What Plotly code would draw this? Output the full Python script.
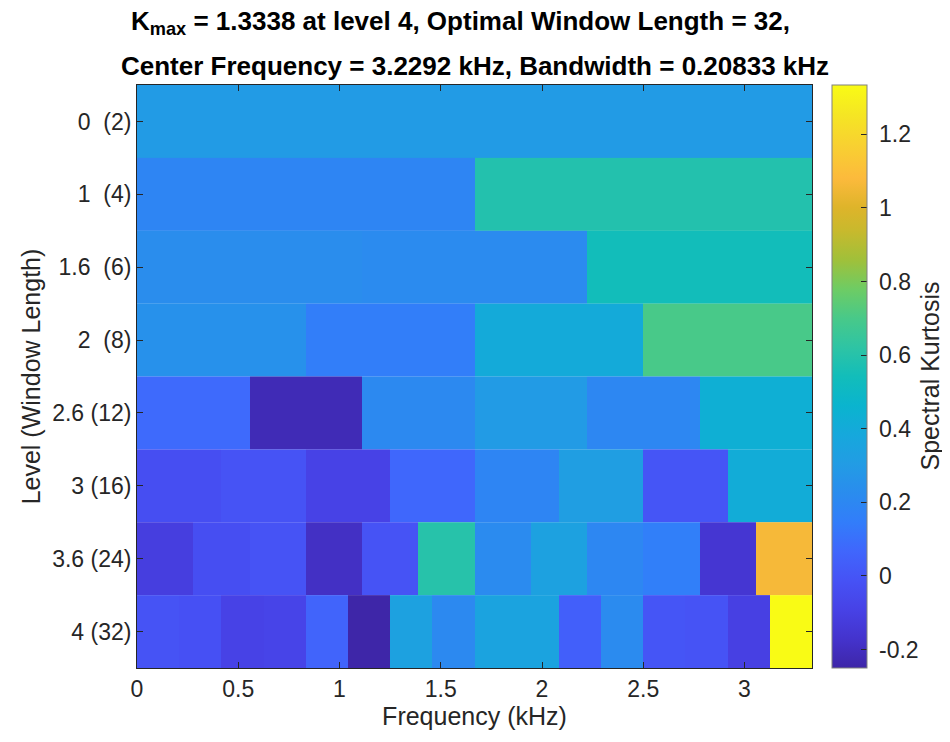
import numpy as np
import plotly.graph_objects as go

# ---- data ----
fmax_khz = 3.3333
level_labels = ["0\u00a0 (2)", "1\u00a0 (4)", "1.6\u00a0 (6)", "2\u00a0 (8)",
                "2.6 (12)", "3 (16)", "3.6 (24)", "4 (32)"]

sk_level0 = [0.30]
sk_level1 = [0.19, 0.59]
sk_level16 = [0.23, 0.22, 0.54]
sk_level2 = [0.25, 0.15, 0.40, 0.70]
sk_level26 = [0.08, -0.22, 0.21, 0.30, 0.20, 0.43]
sk_level3 = [-0.03, -0.01, -0.09, 0.07, 0.19, 0.32, 0.00, 0.41]
sk_level36 = [-0.115, -0.03, -0.01, -0.19, -0.01, 0.60, 0.22, 0.34, 0.20, 0.155, -0.155, 1.065]
sk_level4 = [-0.01, -0.02, -0.09, -0.08, 0.06, -0.25, 0.34, 0.21,
             0.35, 0.35, 0.04, 0.22, 0.00, -0.01, -0.10, 1.3338]

rows = [sk_level0, sk_level1, sk_level16, sk_level2,
        sk_level26, sk_level3, sk_level36, sk_level4]

x_ticks = [0, 0.5, 1, 1.5, 2, 2.5, 3]
cbar_ticks = [-0.2, 0, 0.2, 0.4, 0.6, 0.8, 1, 1.2]

# parula-like colorscale
parula = [
    [0.000, "rgb(62,38,168)"],
    [0.050, "rgb(68,51,205)"],
    [0.100, "rgb(71,66,230)"],
    [0.150, "rgb(70,82,245)"],
    [0.200, "rgb(64,102,252)"],
    [0.250, "rgb(50,125,250)"],
    [0.300, "rgb(42,140,238)"],
    [0.350, "rgb(34,156,228)"],
    [0.400, "rgb(22,168,220)"],
    [0.450, "rgb(10,180,206)"],
    [0.500, "rgb(18,189,186)"],
    [0.550, "rgb(46,196,164)"],
    [0.600, "rgb(72,201,137)"],
    [0.650, "rgb(110,204,100)"],
    [0.700, "rgb(160,192,58)"],
    [0.750, "rgb(200,185,45)"],
    [0.790, "rgb(222,180,42)"],
    [0.840, "rgb(252,186,60)"],
    [0.900, "rgb(248,210,48)"],
    [0.950, "rgb(245,230,35)"],
    [1.000, "rgb(249,251,21)"],
]

FONT = "Liberation Sans, Arial, Helvetica, sans-serif"
AX = "#262626"
TICK_SIZE = 23
LABEL_SIZE = 25
TITLE_SIZE = 26

OFF = 8                  # page body margin
W, H = 950 - 2 * OFF, 742 - 2 * OFF
L, T = 137 - OFF, 85 - OFF
PW, PH = 675, 583

fig = go.Figure()
for i, vals in enumerate(rows):
    n = len(vals)
    edges = np.linspace(0, fmax_khz, n + 1)
    fig.add_trace(go.Heatmap(
        z=[vals], x=edges, y=[i - 0.5, i + 0.5],
        coloraxis="coloraxis", hoverinfo="skip", xgap=0, ygap=0,
    ))

fig.update_layout(
    width=W, height=H,
    margin=dict(l=L, r=W - L - PW, t=T, b=H - T - PH, pad=0, autoexpand=False),
    paper_bgcolor="white", plot_bgcolor="white",
    font=dict(family=FONT, size=TICK_SIZE, color=AX),
    showlegend=False,
    coloraxis=dict(
        colorscale=parula, cmin=min(min(r) for r in rows), cmax=max(max(r) for r in rows),
        colorbar=dict(
            x=(832 - OFF - L) / PW, xanchor="left", xref="paper", y=0.5, yanchor="middle",
            len=1.0, lenmode="fraction", thickness=35, thicknessmode="pixels",
            outlinewidth=1, outlinecolor="#808080", xpad=0, ypad=0,
            ticks="inside", ticklen=6, tickcolor=AX, tickwidth=1,
            tickvals=cbar_ticks, ticktext=["\u00a0" + f"{v:g}" for v in cbar_ticks],
            tickfont=dict(family=FONT, size=TICK_SIZE, color=AX),
        ),
    ),
    xaxis=dict(
        range=[0, fmax_khz], tickvals=x_ticks, ticktext=[f"{v:g}" for v in x_ticks],
        ticks="inside", ticklen=6, tickcolor=AX, tickwidth=1,
        showline=True, linecolor=AX, linewidth=1, mirror="ticks",
        showgrid=False, zeroline=False, automargin=False,
        title=dict(text="Frequency (kHz)", font=dict(family=FONT, size=LABEL_SIZE, color=AX), standoff=6),
        tickfont=dict(family=FONT, size=TICK_SIZE, color=AX),
    ),
    yaxis=dict(
        range=[7.5, -0.5], tickvals=list(range(len(level_labels))), ticktext=level_labels,
        ticks="inside", ticklen=6, tickcolor=AX, tickwidth=1,
        showline=True, linecolor=AX, linewidth=1, mirror="ticks",
        showgrid=False, zeroline=False, automargin=False,
        title=dict(text="Level (Window Length)", font=dict(family=FONT, size=LABEL_SIZE, color=AX), standoff=4),
        tickfont=dict(family=FONT, size=TICK_SIZE, color=AX),
    ),
    annotations=[
        dict(text="<b>K<sub>max</sub> = 1.3338 at level 4, Optimal Window Length = 32,</b>",
             x=0.5, xref="paper", y=1, yref="paper", yshift=44, xshift=-14,
             xanchor="center", yanchor="bottom", showarrow=False,
             font=dict(family=FONT, size=TITLE_SIZE, color="black")),
        dict(text="<b>Center Frequency = 3.2292 kHz, Bandwidth = 0.20833 kHz</b>",
             x=0.5, xref="paper", y=1, yref="paper", yshift=2,
             xanchor="center", yanchor="bottom", showarrow=False,
             font=dict(family=FONT, size=TITLE_SIZE, color="black")),
        dict(text="Spectral Kurtosis", textangle=-90,
             x=(929 - OFF - L) / PW, xref="paper", y=0.5, yref="paper",
             xanchor="center", yanchor="middle", showarrow=False,
             font=dict(family=FONT, size=LABEL_SIZE, color=AX)),
    ],
)

fig.write_html("out.html")
